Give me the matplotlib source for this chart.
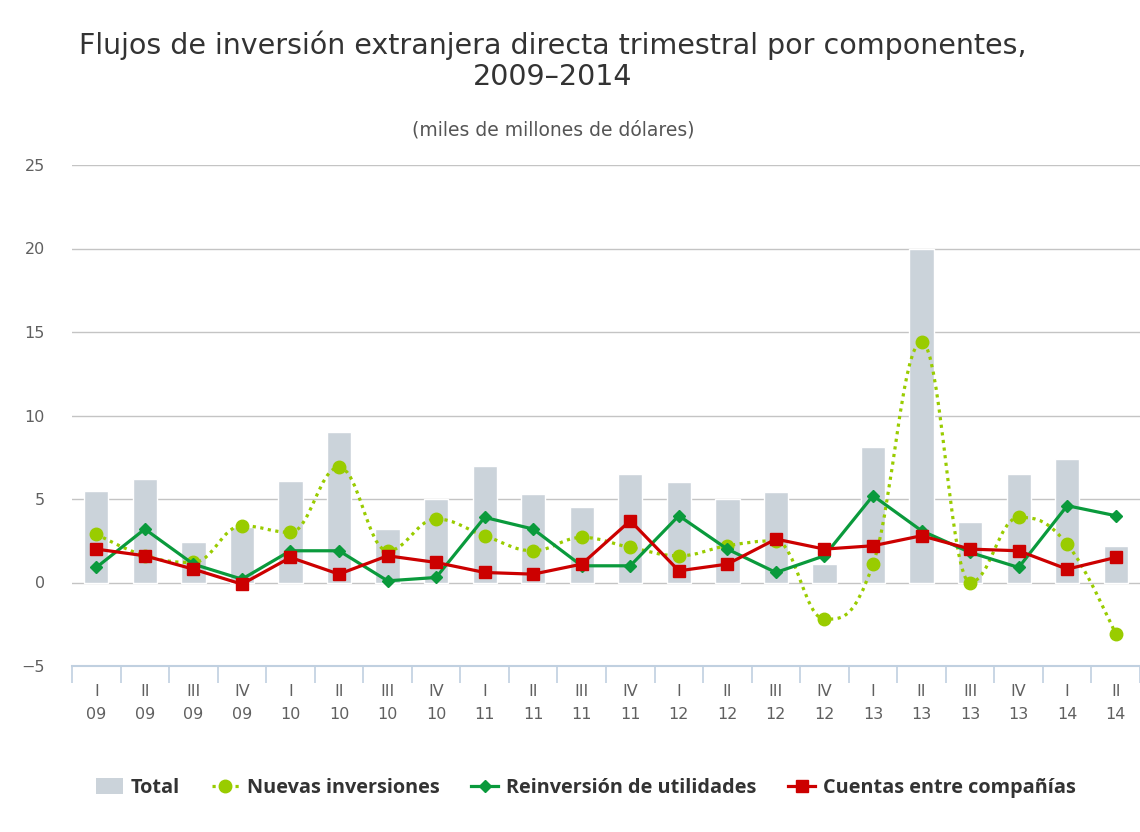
import matplotlib
matplotlib.use("Agg")
import matplotlib.pyplot as plt
from matplotlib.lines import Line2D
from matplotlib.patches import PathPatch, Patch
from matplotlib.path import Path

plt.rcParams["font.family"] = ["DejaVu Sans"]

# %% data (miles de millones de dolares)
quarters = ["I", "II", "III", "IV"] * 5 + ["I", "II"]
years = ["09"] * 4 + ["10"] * 4 + ["11"] * 4 + ["12"] * 4 + ["13"] * 4 + ["14"] * 2

total = [5.5, 6.2, 2.4, 3.3, 6.1, 9.0, 3.2, 5.0, 7.0, 5.3, 4.5, 6.5,
         6.0, 5.0, 5.4, 1.1, 8.1, 20.0, 3.6, 6.5, 7.4, 2.2]
nuevas = [2.9, 1.6, 1.2, 3.4, 3.0, 6.9, 1.9, 3.8, 2.8, 1.9, 2.7, 2.1,
          1.6, 2.2, 2.5, -2.2, 1.1, 14.4, 0.0, 3.9, 2.3, -3.1]
reinversion = [0.9, 3.2, 1.1, 0.2, 1.9, 1.9, 0.1, 0.3, 3.9, 3.2, 1.0, 1.0,
               4.0, 2.0, 0.6, 1.6, 5.2, 3.1, 1.8, 0.9, 4.6, 4.0]
cuentas = [2.0, 1.6, 0.8, -0.1, 1.5, 0.5, 1.6, 1.2, 0.6, 0.5, 1.1, 3.7,
           0.7, 1.1, 2.6, 2.0, 2.2, 2.8, 2.0, 1.9, 0.8, 1.5]

C_TOTAL = "#cbd3da"
C_NUEVAS = "#99cc00"
C_REINV = "#0a9a3c"
C_CUENTAS = "#cc0000"


# %% spline path like the original chart's smoothed series
def spline_path(xs, ys, smoothing=1.5):
    n = len(xs)
    right = [(x, y) for x, y in zip(xs, ys)]
    left = [(x, y) for x, y in zip(xs, ys)]
    d = smoothing + 1
    for i in range(1, n - 1):
        x, y = xs[i], ys[i]
        lx, ly = xs[i - 1], ys[i - 1]
        nx, ny = xs[i + 1], ys[i + 1]
        lcx = (smoothing * x + lx) / d
        lcy = (smoothing * y + ly) / d
        rcx = (smoothing * x + nx) / d
        rcy = (smoothing * y + ny) / d
        corr = (rcy - lcy) * (rcx - x) / (rcx - lcx) + y - rcy
        lcy += corr
        rcy += corr
        if lcy > ly and lcy > y:
            lcy = max(ly, y)
            rcy = 2 * y - lcy
        elif lcy < ly and lcy < y:
            lcy = min(ly, y)
            rcy = 2 * y - lcy
        if rcy > ny and rcy > y:
            rcy = max(ny, y)
            lcy = 2 * y - rcy
        elif rcy < ny and rcy < y:
            rcy = min(ny, y)
            lcy = 2 * y - rcy
        left[i] = (lcx, lcy)
        right[i] = (rcx, rcy)
    verts = [(xs[0], ys[0])]
    codes = [Path.MOVETO]
    for i in range(1, n):
        verts += [right[i - 1], left[i], (xs[i], ys[i])]
        codes += [Path.CURVE4] * 3
    return Path(verts, codes)


# %% figure
fig = plt.figure(figsize=(11.4, 8.32), dpi=100)
ax = fig.add_axes([72 / 1140, 166 / 832, 1068 / 1140, 501 / 832])

x = list(range(len(total)))

ax.bar(x, total, width=0.5, color=C_TOTAL, edgecolor="white", linewidth=1, zorder=2)

dot_style = (0, (1, 1.4))
patch = PathPatch(spline_path(x, nuevas), facecolor="none", edgecolor=C_NUEVAS,
                  lw=2.3, linestyle=dot_style, capstyle="butt", zorder=3)
ax.add_patch(patch)
ax.plot(x, nuevas, linestyle="none", marker="o", ms=9, color=C_NUEVAS, zorder=4)

ax.plot(x, reinversion, color=C_REINV, lw=2.3, marker="D", ms=6.5, zorder=5)
ax.plot(x, cuentas, color=C_CUENTAS, lw=2.3, marker="s", ms=9, zorder=6)

ax.set_xlim(-0.5, 21.44)
ax.set_ylim(-5, 25)
ax.set_yticks([-5, 0, 5, 10, 15, 20, 25])
ax.yaxis.grid(True, color="#c4c4c4", lw=1.0, zorder=0)
ax.set_axisbelow(True)

for s in ["top", "right", "left"]:
    ax.spines[s].set_visible(False)
ax.spines["bottom"].set_color("#c0d0e0")
ax.spines["bottom"].set_linewidth(1.5)

ax.set_xticks(x)
ax.set_xticklabels([f"{q}\n{y}" for q, y in zip(quarters, years)],
                   fontsize=11.5, color="#606060", linespacing=1.7)
ax.set_xticks([i - 0.5 for i in range(23)], minor=True)
ax.tick_params(axis="x", which="major", length=0, pad=13)
ax.tick_params(axis="x", which="minor", length=12, color="#c0d0e0", width=1.2)
ax.tick_params(axis="y", length=0, pad=19.5, labelsize=11.5, labelcolor="#606060")

# %% titles
fig.text(0.485, 1 - 61 / 832,
         "Flujos de inversión extranjera directa trimestral por componentes,\n2009–2014",
         ha="center", va="center", fontsize=20.5, color="#333333", linespacing=1.15)
fig.text(0.485, 1 - 130 / 832, "(miles de millones de dólares)",
         ha="center", va="center", fontsize=13.5, color="#555555")

# %% legend
handles = [
    Patch(facecolor=C_TOTAL, edgecolor="none"),
    Line2D([], [], color=C_NUEVAS, lw=2.3, linestyle=dot_style, marker="o", ms=9),
    Line2D([], [], color=C_REINV, lw=2.3, marker="D", ms=6.5),
    Line2D([], [], color=C_CUENTAS, lw=2.3, marker="s", ms=9),
]
labels = ["Total", "Nuevas inversiones", "Reinversión de utilidades",
          "Cuentas entre compañías"]
fig.legend(handles, labels, loc="center", bbox_to_anchor=(0.514, 1 - 788 / 832),
           ncol=4, frameon=False, handlelength=1.35, handleheight=0.9,
           columnspacing=1.6, handletextpad=0.4,
           prop={"family": "Open Sans", "size": 14.3, "weight": "bold"},
           labelcolor="#333333")

fig.savefig("out.png", dpi=100, facecolor="white")
